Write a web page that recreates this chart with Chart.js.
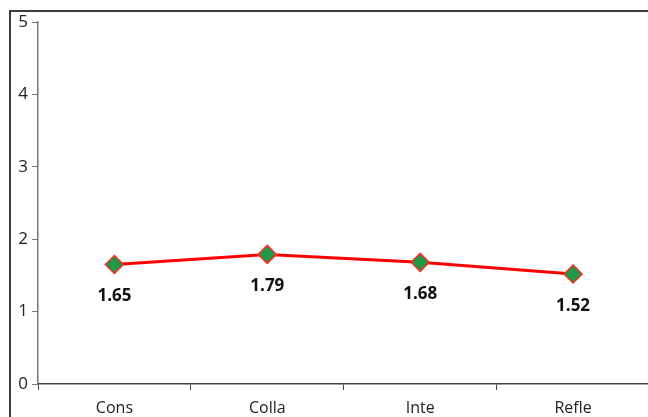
<!DOCTYPE html>
<html>
<head>
<meta charset="utf-8">
<script src="https://cdn.jsdelivr.net/npm/chart.js@4.4.0/dist/chart.umd.min.js"></script>
<style>
  html, body { margin: 0; padding: 0; background: #fff; overflow: hidden; width: 648px; height: 417px; }
  .frame { position: absolute; left: 9px; top: 10px; width: 700px; height: 500px; border: 2px solid #3c3c3c; box-sizing: border-box; }
  .wrap { position: absolute; left: 0; top: 0; width: 660px; height: 430px; }
</style>
</head>
<body>
<div class="frame"></div>
<div class="wrap"><canvas id="chart"></canvas></div>
<script>
// данные графика
const categories = ['Cons', 'Colla', 'Inte', 'Refle'];
const values = [1.65, 1.79, 1.68, 1.52];
const yTicks = [0, 1, 2, 3, 4, 5];

const FONT = '"Open Sans", "Noto Sans", sans-serif';

// подписи значений под точками
const valueLabels = {
    id: 'valueLabels',
    afterDatasetsDraw(chart) {
        const ctx = chart.ctx;
        const meta = chart.getDatasetMeta(0);
        ctx.save();
        ctx.font = 'bold 17px ' + FONT;
        ctx.fillStyle = '#111';
        ctx.textAlign = 'center';
        ctx.textBaseline = 'middle';
        meta.data.forEach((pt, i) => {
            ctx.fillText(values[i].toFixed(2), pt.x, pt.y + 32);
        });
        ctx.restore();
    }
};

new Chart(document.getElementById('chart'), {
    type: 'line',
    data: {
        labels: categories,
        datasets: [{
            data: values,
            borderColor: '#ff0000',
            borderWidth: 3,
            pointStyle: 'rectRot',
            pointRadius: 9,
            pointHoverRadius: 9,
            pointBackgroundColor: '#1c9b46',
            pointBorderColor: '#ff2a20',
            pointBorderWidth: 1.5,
            tension: 0
        }]
    },
    options: {
        responsive: true,
        maintainAspectRatio: false,
        animation: false,
        layout: { padding: { top: 22, right: 10, left: 0, bottom: 0 } },
        plugins: { legend: { display: false }, tooltip: { enabled: false } },
        scales: {
            x: {
                offset: true,
                afterFit(scale) { scale.height = 46; },
                border: { color: '#444', width: 1.5 },
                grid: { drawOnChartArea: false, offset: true, tickLength: 6, color: '#444' },
                ticks: { color: '#222', font: { family: FONT, size: 16 }, padding: 9 }
            },
            y: {
                min: 0,
                max: 5,
                afterFit(scale) { scale.width = 38; },
                afterBuildTicks(scale) { scale.ticks = yTicks.map(v => ({ value: v })); },
                border: { color: '#777', width: 1.5 },
                grid: { drawOnChartArea: false, tickLength: 6, color: '#777' },
                ticks: { color: '#222', font: { family: FONT, size: 17 }, padding: 4 }
            }
        }
    },
    plugins: [valueLabels]
});
</script>
</body>
</html>
